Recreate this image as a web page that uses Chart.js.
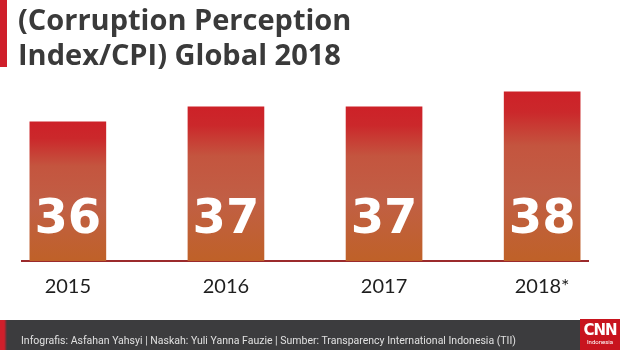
<!DOCTYPE html>
<html>
<head>
<meta charset="utf-8">
<script src="https://cdn.jsdelivr.net/npm/chart.js@4/dist/chart.umd.min.js"></script>
<style>
  html, body { margin: 0; padding: 0; background: #fff; }
  #wrap { position: relative; width: 620px; height: 350px; overflow: hidden; }
  #strip { position: absolute; left: 0; top: 0; width: 7px; height: 67px; background: #cf1f2b; }
  #title {
    position: absolute; left: 18px; top: 1px;
    font-family: "Open Sans", sans-serif; font-weight: 700; font-size: 29px;
    line-height: 35px; color: #3a3a3a; white-space: nowrap;
  }
  #chartBox { position: absolute; left: 0; top: 0; width: 620px; height: 320px; }
  #footer {
    position: absolute; left: 0; top: 320px; width: 620px; height: 30px;
    background: #3c3c3e;
  }
  #footer .red { position: absolute; left: 0; top: 0; width: 7px; height: 30px;
    background: linear-gradient(to right, #cf1f2b 60%, #3c3c3e); }
  #footer .txt {
    position: absolute; left: 21px; top: 14px;
    font-family: Roboto, sans-serif; font-size: 10.5px; color: #e0e0e0; white-space: nowrap;
  }
  #logo {
    position: absolute; left: 580px; top: 319px; width: 40px; height: 31px;
    background: #c8141e; color: #fff; text-align: center;
  }
  #logo .cnn { font-family: "DejaVu Sans", sans-serif; font-weight: 700; font-size: 15px;
    letter-spacing: -1px; line-height: 16px; margin-top: 3px; }
  #logo .ind { font-family: Roboto, sans-serif; font-size: 6px; line-height: 8px; }
</style>
</head>
<body>
<div id="wrap">
  <div id="chartBox"><canvas id="barChart"></canvas></div>
  <div id="strip"></div>
  <div id="title">(Corruption Perception<br>Index/CPI) Global 2018</div>
  <div id="footer">
    <div class="red"></div>
    <div class="txt">Infografis: Asfahan Yahsyi | Naskah: Yuli Yanna Fauzie | Sumber: Transparency International Indonesia (TII)</div>
  </div>
  <div id="logo"><div class="cnn">CNN</div><div class="ind">Indonesia</div></div>
</div>
<script>
const years = ['2015', '2016', '2017', '2018*'];
const cpiValues = [36, 37, 37, 38];

const ctx1 = document.getElementById('barChart');

// gradient per bar, from its own top down to the baseline
const barFill = (context) => {
    const chart = context.chart;
    if (!chart.chartArea || context.raw == null) return '#c55a3a';
    const top = chart.scales.y.getPixelForValue(context.raw.y);
    const bottom = chart.chartArea.bottom;
    const g = chart.ctx.createLinearGradient(0, top, 0, bottom);
    g.addColorStop(0, '#cd2128');
    g.addColorStop(0.12, '#cb282b');
    g.addColorStop(0.32, '#c4553f');
    g.addColorStop(0.6, '#c15f45');
    g.addColorStop(1, '#bf6128');
    return g;
};

// big white numbers sitting near the bottom of each bar
const valueLabels = {
    id: 'valueLabels',
    afterDatasetsDraw(chart) {
        const c = chart.ctx;
        const meta = chart.getDatasetMeta(0);
        const bottom = chart.chartArea.bottom;
        c.save();
        c.fillStyle = '#ffffff';
        c.font = 'bold 48px "DejaVu Sans", sans-serif';
        c.textAlign = 'center';
        c.textBaseline = 'alphabetic';
        meta.data.forEach((bar, i) => {
            c.fillText(String(cpiValues[i]), bar.x, bottom - 28);
        });
        c.restore();
    }
};

const chart = new Chart(ctx1, {
    type: 'bar',
    data: {
        datasets: [{
            data: cpiValues.map((v, i) => ({ x: i, y: v })),
            backgroundColor: barFill,
            borderWidth: 0,
            barThickness: 76
        }]
    },
    options: {
        responsive: true,
        maintainAspectRatio: false,
        animation: false,
        layout: {
            padding: {
                left: 22,
                right: 32,
                top: 77,
                bottom: 7
            }
        },
        plugins: {
            legend: { display: false },
            title: { display: false },
            tooltip: { enabled: false }
        },
        scales: {
            x: {
                type: 'linear',
                offset: false,
                min: -0.29,
                max: 3.29,
                grid: { display: false, drawTicks: false, offset: false },
                border: { display: true, color: '#9b2a2c', width: 2 },
                ticks: {
                    stepSize: 1,
                    includeBounds: false,
                    maxRotation: 0,
                    autoSkip: false,
                    padding: 14,
                    color: '#1e1e1e',
                    font: { family: 'Lato', size: 20 },
                    callback: (value) => years[value] ?? ''
                }
            },
            y: {
                display: false,
                min: 26.66,
                max: 39
            }
        }
    },
    plugins: [valueLabels]
});
</script>
</body>
</html>
